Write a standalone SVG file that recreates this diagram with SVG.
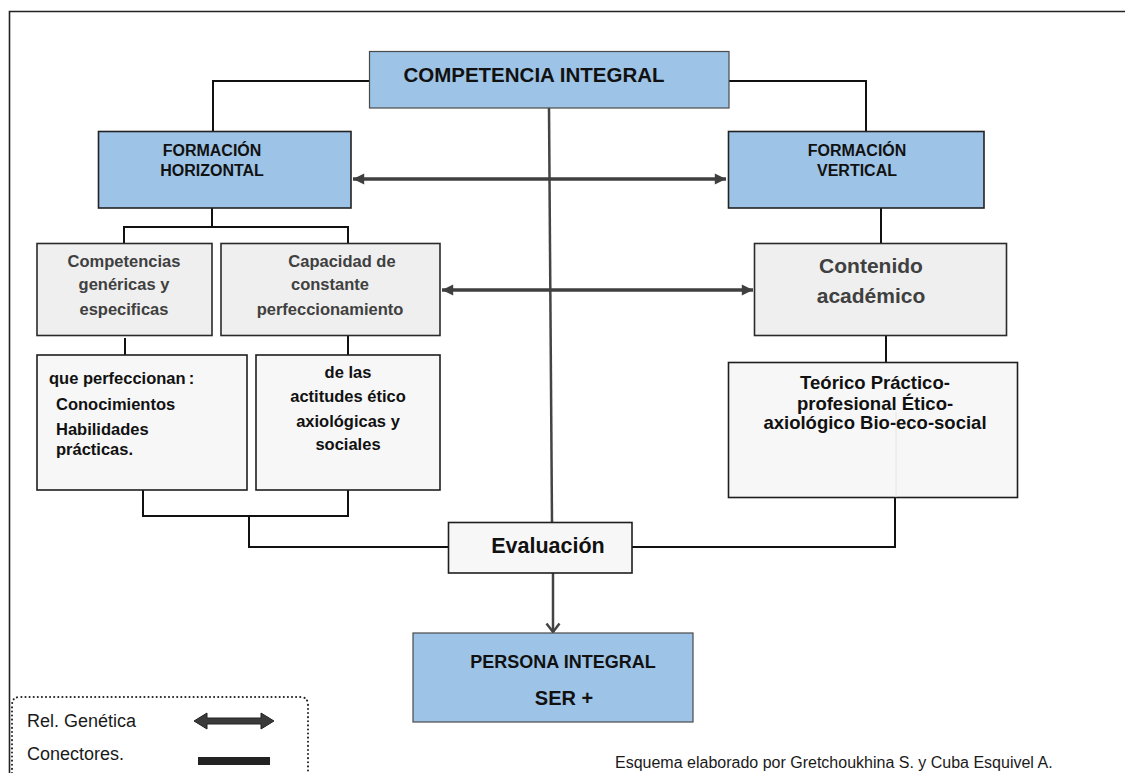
<svg xmlns="http://www.w3.org/2000/svg" width="1125" height="773" viewBox="0 0 1125 773">
  <style>
    .blue { fill: #9dc3e6; stroke: #4a4a4a; stroke-width: 1.2; }
    .gray { fill: #efefef; stroke: #2a2a2a; stroke-width: 1.6; }
    .light { fill: #f7f7f7; stroke: #1e1e1e; stroke-width: 1.6; }
    .conn { fill: none; stroke: #111; stroke-width: 2; }
    .rel { fill: none; stroke: #3f3f3f; stroke-width: 3.5; }
    .axis { fill: none; stroke: #444; stroke-width: 2.5; }
    .t { font-family: "Liberation Sans", Arial, sans-serif; font-weight: bold; fill: #111; }
    .tg { font-family: "Liberation Sans", Arial, sans-serif; font-weight: bold; fill: #404040; }
    .n { font-family: "Liberation Sans", Arial, sans-serif; fill: #1a1a1a; }
    .c { text-anchor: middle; }
  </style>
  <defs>
    <marker id="ah" viewBox="0 0 10 10" refX="10" refY="5" markerWidth="3.6" markerHeight="3.2" orient="auto-start-reverse" markerUnits="strokeWidth">
      <path d="M0,0 L10,5 L0,10 Z" fill="#3f3f3f"/>
    </marker>
  </defs>
  <rect width="1125" height="773" fill="#ffffff"/>
  <!-- frame -->
  <path d="M9.5 773 L9.5 11.5 L1125 11.5" fill="none" stroke="#222" stroke-width="1.6"/>

  <!-- connectors -->
  <g id="connectors">
    <path class="conn" d="M369 81 L213 81 L213 131"/>
    <path class="conn" d="M729 81 L866 81 L866 131"/>
    <path class="conn" d="M212 204 L212 227 M124 243 L124 227 L348 227 L348 243"/>
    <path class="conn" d="M881 208 L881 243"/>
    <path class="conn" d="M125 338 L125 355"/>
    <path class="conn" d="M348 336 L348 355"/>
    <path class="conn" d="M886 336 L886 362"/>
    <path class="conn" d="M143 490 L143 516 L348 516 L348 490"/>
    <path class="conn" d="M249 516 L249 547 L448 547"/>
    <path class="conn" d="M632 547 L895 547 L895 498"/>
    <path class="axis" d="M549 108 L552 522"/>
    <path class="axis" d="M553 573 L553 632"/>
    <path d="M546.5 623.5 L553 632 L559.5 623.5" fill="none" stroke="#444" stroke-width="2.5"/>
    <line class="rel" x1="353" y1="179" x2="726" y2="179" marker-start="url(#ah)" marker-end="url(#ah)"/>
    <line class="rel" x1="442" y1="290" x2="753" y2="290" marker-start="url(#ah)" marker-end="url(#ah)"/>
  </g>

  <g id="competencia-integral">
    <rect class="blue" x="369.5" y="51.5" width="359.5" height="56.5"/>
    <text class="t c" x="534" y="82" font-size="20.5">COMPETENCIA INTEGRAL</text>
  </g>

  <g id="formacion-horizontal">
    <rect class="blue" x="98.5" y="131.5" width="252.5" height="76.5" style="stroke:#222;stroke-width:1.6"/>
    <text class="t c" x="212" y="156" font-size="16">FORMACIÓN</text>
    <text class="t c" x="212" y="176" font-size="16">HORIZONTAL</text>
  </g>

  <g id="formacion-vertical">
    <rect class="blue" x="728.5" y="131.5" width="255.5" height="76.5" style="stroke:#222;stroke-width:1.6"/>
    <text class="t c" x="857" y="156" font-size="16">FORMACIÓN</text>
    <text class="t c" x="857" y="176" font-size="16">VERTICAL</text>
  </g>

  <g id="competencias-genericas">
    <rect class="gray" x="37" y="243.5" width="175" height="92"/>
    <text class="tg c" x="124" y="267" font-size="16.5">Competencias</text>
    <text class="tg c" x="124" y="290" font-size="16.5">genéricas y</text>
    <text class="tg c" x="124" y="315" font-size="16.5">especificas</text>
  </g>

  <g id="capacidad">
    <rect class="gray" x="221" y="243.5" width="219" height="92"/>
    <text class="tg c" x="342" y="267" font-size="16.5">Capacidad de</text>
    <text class="tg c" x="330" y="290" font-size="16.5">constante</text>
    <text class="tg c" x="330" y="315" font-size="16.5">perfeccionamiento</text>
  </g>

  <g id="contenido-academico">
    <rect class="gray" x="754.5" y="243.5" width="252" height="92"/>
    <text class="tg c" x="871" y="273" font-size="21">Contenido</text>
    <text class="tg c" x="871" y="303" font-size="21">académico</text>
  </g>

  <g id="que-perfeccionan">
    <rect class="light" x="37" y="355" width="210" height="135"/>
    <text class="t" x="49" y="384" font-size="16.5">que perfeccionan<tspan dx="3">:</tspan></text>
    <text class="t" x="56" y="410" font-size="16.5">Conocimientos</text>
    <text class="t" x="56" y="435" font-size="16.5">Habilidades</text>
    <text class="t" x="56" y="455" font-size="16.5">prácticas.</text>
  </g>

  <g id="de-las-actitudes">
    <rect class="light" x="256" y="355" width="184" height="135"/>
    <text class="t c" x="348" y="378" font-size="16.5">de las</text>
    <text class="t c" x="348" y="402" font-size="16.5">actitudes ético</text>
    <text class="t c" x="348" y="427" font-size="16.5">axiológicas y</text>
    <text class="t c" x="348" y="450" font-size="16.5">sociales</text>
  </g>

  <g id="teorico-practico">
    <rect class="light" x="728.5" y="362.5" width="289" height="135"/>
    <line x1="896" y1="412" x2="896" y2="497" stroke="#e4e4e4" stroke-width="1"/>
    <text class="t c" x="875" y="389" font-size="18.5">Teórico Práctico-</text>
    <text class="t c" x="875" y="410" font-size="18.5">profesional Ético-</text>
    <text class="t c" x="875" y="429" font-size="18.5">axiológico Bio-eco-social</text>
  </g>

  <g id="evaluacion">
    <rect class="light" x="448.5" y="522.5" width="183.5" height="50.5"/>
    <text class="t c" x="548" y="553" font-size="21.5">Evaluación</text>
  </g>

  <g id="persona-integral">
    <rect class="blue" x="413" y="633" width="280" height="89"/>
    <text class="t c" x="563" y="668" font-size="18">PERSONA INTEGRAL</text>
    <text class="t c" x="564" y="705" font-size="20">SER +</text>
  </g>

  <g id="legend">
    <path d="M12 773 L12 705 Q12 697 20 697 L300 697 Q308 697 308 705 L308 773" fill="none" stroke="#222" stroke-width="2" stroke-dasharray="0.1 4" stroke-linecap="round"/>
    <text class="n" x="27" y="727" font-size="18">Rel. Genética</text>
    <text class="n" x="27" y="760" font-size="18">Conectores.</text>
    <polygon points="194,721 207,713 207,718 261,718 261,713 274,721 261,729 261,724 207,724 207,729" fill="#3a3a3a" stroke="#222" stroke-width="1"/>
    <rect x="198" y="757" width="72" height="8" fill="#222"/>
  </g>

  <text class="n" x="615" y="768" font-size="16">Esquema elaborado por Gretchoukhina S. y Cuba Esquivel A.</text>
</svg>
